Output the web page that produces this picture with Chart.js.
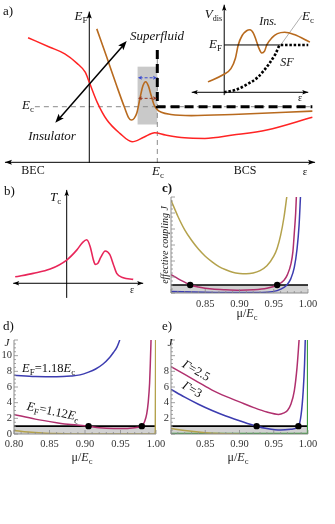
<!DOCTYPE html>
<html><head><meta charset="utf-8">
<script src="https://cdn.jsdelivr.net/npm/chart.js@4.4.1/dist/chart.umd.min.js"></script>
<style>
html,body{margin:0;padding:0;background:#fff;}
body{width:335px;height:524px;position:relative;overflow:hidden;}
canvas{position:absolute;left:0;top:0;}
</style></head>
<body>
<canvas id="ca"></canvas><canvas id="cin"></canvas><canvas id="cb"></canvas>
<canvas id="cc"></canvas><canvas id="cd"></canvas><canvas id="ce"></canvas>
<script>
// ---------- DATA ----------
// Panel a (schematic): x = disorder/coupling epsilon (E_c = 1), y = energy (E_c = 1)
const aRedEps = [-0.90,-0.58,-0.36,-0.18,-0.06,0.0,0.12,0.26,0.45,0.63,0.80,0.96,1.12,1.40,1.70,2.11,2.61,3.28];
const aRedE   = [2.24,2.07,1.95,1.78,1.62,1.44,1.07,0.76,0.52,0.37,0.45,0.53,0.49,0.44,0.43,0.49,0.58,0.81];
const aBrownEps = [0.11,0.26,0.41,0.52,0.58,0.62,0.66,0.70,0.75,0.79,0.83,0.87,0.91,0.95,0.99,1.06,1.20,1.50,2.11,3.28];
const aBrownE   = [2.40,1.88,1.35,0.98,0.80,0.76,0.79,0.89,1.18,1.38,1.45,1.37,1.20,1.04,0.96,0.90,0.86,0.84,0.86,0.92];
// Inset of panel a
const inSfEps = [0,0.2,0.4,0.6,0.8,0.92,1.0,1.5];
const inSfV   = [0,0.05,0.16,0.32,0.60,0.82,1.0,1.0];
const inInsEps = [-0.29,-0.02,0.12,0.20,0.25,0.32,0.40,0.46,0.52,0.57,0.61,0.67,0.72,0.76,0.85,0.95,1.08,1.25,1.53];
const inInsV   = [0.22,0.37,0.50,0.72,1.0,1.20,1.30,1.32,1.25,1.10,0.96,0.83,0.87,1.0,1.15,1.24,1.27,1.22,1.06];
// Panel b
const bEps = [-1.03,-0.67,-0.33,0.0,0.2,0.32,0.40,0.47,0.53,0.57,0.62,0.68,0.77,0.86,0.93,1.0,1.13,1.33];
const bTc  = [0.15,0.23,0.33,0.54,0.77,0.95,1.01,0.85,0.56,0.44,0.46,0.60,0.75,0.67,0.45,0.23,0.13,0.09];
// Panel c
const cOliveMu = [0.80,0.81,0.82,0.83,0.84,0.85,0.86,0.87,0.88,0.89,0.90,0.91,0.92,0.93,0.94,0.95,0.955,0.96,0.965,0.969];
const cOliveJ  = [11.6,9.6,7.9,6.6,5.5,4.6,3.9,3.3,2.9,2.6,2.45,2.4,2.5,2.8,3.4,4.6,5.6,7.2,9.5,12];
const cPinkMu = [0.80,0.81,0.82,0.828,0.84,0.86,0.88,0.90,0.92,0.94,0.955,0.965,0.97,0.975,0.978,0.98,0.982,0.983];
const cPinkJ  = [2.3,1.8,1.35,1.0,0.75,0.5,0.4,0.35,0.4,0.6,1.0,1.6,2.3,3.6,5.2,7.5,10,12];
const cBlueMu = [0.80,0.85,0.90,0.94,0.955,0.965,0.969,0.975,0.98,0.984,0.987,0.989];
const cBlueJ  = [0.2,0.1,0.05,0.1,0.3,0.7,1.0,1.8,3.2,5.5,8.5,12];
const cDotsMu = [0.828,0.955];
// Panel d
const dBlueMu = [0.80,0.83,0.86,0.88,0.893,0.905,0.915,0.925,0.935,0.94,0.945,0.949];
const dBlueJ  = [7.5,7.35,7.3,7.4,7.55,7.9,8.3,8.9,9.8,10.4,11.1,12];
const dPinkMu = [0.80,0.83,0.86,0.88,0.905,0.92,0.94,0.96,0.97,0.98,0.984,0.987,0.989,0.991,0.992,0.993];
const dPinkJ  = [2.5,1.9,1.45,1.2,1.0,0.8,0.7,0.7,0.8,1.0,1.6,2.6,4,6.5,9,12];
const dOliveMu = [0.80,0.82,0.84,0.86,0.88,0.90,0.95,0.998,0.999,0.9995];
const dOliveJ  = [0.45,0.25,0.12,0.05,0.01,0,0,0,0.3,12];
const dDotsMu = [0.905,0.98];
// Panel e
const ePinkMu = [0.80,0.82,0.84,0.86,0.88,0.90,0.92,0.94,0.957,0.965,0.97,0.975,0.98,0.984,0.987];
const ePinkJ  = [8.6,7.6,6.6,5.6,4.8,4.1,3.4,2.8,2.5,2.7,3.0,3.8,5.5,8.5,12];
const eBlueMu = [0.80,0.82,0.84,0.86,0.88,0.90,0.925,0.94,0.96,0.975,0.986,0.99,0.993,0.995,0.996];
const eBlueJ  = [5.7,4.7,3.8,3.0,2.3,1.7,1.0,0.7,0.5,0.6,1.0,2.5,5.5,9,12];
const eOliveMu = [0.80,0.82,0.84,0.86,0.88,0.90];
const eOliveJ  = [0.7,0.45,0.25,0.1,0.02,0];
const eGreenMu = [0.80,0.999,0.9995];
const eGreenJ  = [0.05,0.05,12];
const eDotsMu = [0.925,0.986];
// shared
const muTicks = [0.80,0.85,0.90,0.95,1.00];
const jTicksD = [0,2,4,6,8,10];
const jTicksE = [2,4,6,8];
const jLine = 1;

// ---------- HELPERS ----------
const FONT = '"Liberation Serif","Times New Roman",serif';
const W = 335, H = 524;
const pts = (xs, ys) => xs.map((x, i) => ({x, y: ys[i]}));
const curve = (xs, ys, color, w, extra) => Object.assign({data: pts(xs, ys), borderColor: color, borderWidth: w || 1.5,
  showLine: true, pointRadius: 0, cubicInterpolationMode: 'monotone', fill: false}, extra || {});
const dots = (xs, val) => ({data: xs.map(x => ({x, y: val})), showLine: false, pointRadius: 3.2,
  pointBackgroundColor: '#000', pointBorderColor: '#000', pointBorderWidth: 0});
const band = (val) => ({data: [{x: 0.80, y: val}, {x: 1.00, y: val}], showLine: true, pointRadius: 0,
  borderColor: '#000', borderWidth: 1.6, fill: 'origin', backgroundColor: '#d2d2d2'});

function rich(ctx, x, y, parts, align, rot, color) {
  ctx.save(); ctx.translate(x, y); if (rot) ctx.rotate(rot * Math.PI / 180);
  let w = 0;
  const f = parts.map(p => { const font = (p[1] || '') + ' ' + p[3] + 'px ' + FONT; ctx.font = font;
    const pw = ctx.measureText(p[0]).width; w += pw; return [font, pw]; });
  let cx = align === 'center' ? -w / 2 : align === 'right' ? -w : 0;
  ctx.textBaseline = 'middle'; ctx.textAlign = 'left'; ctx.fillStyle = color || '#111';
  parts.forEach((p, i) => { ctx.font = f[i][0]; ctx.fillText(p[0], cx, p[2]); cx += f[i][1]; });
  ctx.restore();
}
function seg(ctx, x1, y1, x2, y2, color, w, dash) {
  ctx.save(); ctx.strokeStyle = color; ctx.lineWidth = w; ctx.setLineDash(dash || []);
  ctx.beginPath(); ctx.moveTo(x1, y1); ctx.lineTo(x2, y2); ctx.stroke(); ctx.restore();
}
function head(ctx, x1, y1, x2, y2, len, wid, color) {
  const a = Math.atan2(y2 - y1, x2 - x1);
  ctx.save(); ctx.fillStyle = color; ctx.translate(x2, y2); ctx.rotate(a);
  ctx.beginPath(); ctx.moveTo(0, 0); ctx.lineTo(-len, wid / 2); ctx.lineTo(-len * 0.8, 0); ctx.lineTo(-len, -wid / 2);
  ctx.closePath(); ctx.fill(); ctx.restore();
}
function makeChart(id, area, xr, yr, datasets, before, after) {
  const cv = document.getElementById(id); cv.width = W; cv.height = H;
  return new Chart(cv, {
    type: 'scatter', data: {datasets},
    options: {
      responsive: false, animation: false, events: [], devicePixelRatio: 1,
      layout: {padding: {left: area[0], top: area[1], right: W - area[2], bottom: H - area[3]}},
      scales: {x: {type: 'linear', display: false, min: xr[0], max: xr[1]},
               y: {type: 'linear', display: false, min: yr[0], max: yr[1]}},
      plugins: {legend: {display: false}, tooltip: {enabled: false}}
    },
    plugins: [{id: 'deco_' + id,
      beforeDatasetsDraw(c) { if (before) before(c.ctx, v => c.scales.x.getPixelForValue(v), v => c.scales.y.getPixelForValue(v)); },
      afterDatasetsDraw(c) { if (after) after(c.ctx, v => c.scales.x.getPixelForValue(v), v => c.scales.y.getPixelForValue(v)); }}]
  });
}

// ---------- PANEL a ----------
makeChart('ca', [0, 0, 335, 182], [-1.313, 3.613], [-0.354, 2.919], [
  curve(aRedEps, aRedE, '#ff2424', 1.5),
  curve(aBrownEps, aBrownE, '#b86a1e', 1.6)
], (ctx, X, Y) => {
  ctx.fillStyle = '#c9c9c9';
  ctx.fillRect(X(0.71), Y(1.72), X(1.0) - X(0.71), Y(0.68) - Y(1.72));
  seg(ctx, X(-0.80), Y(1), X(3.28), Y(1), '#8a8a8a', 1, [5, 4]);
  seg(ctx, X(1), Y(2.02), X(1), Y(-0.08), '#8a8a8a', 1, [5, 4]);
  // axes
  seg(ctx, X(-1.24), Y(0), X(3.32), Y(0), '#000', 1);
  head(ctx, X(0), Y(0), X(3.32), Y(0), 7, 5, '#000');
  head(ctx, X(0), Y(0), X(-1.24), Y(0), 7, 5, '#000');
  seg(ctx, X(0), Y(-0.01), X(0), Y(2.71), '#000', 1);
  head(ctx, X(0), Y(0), X(0), Y(2.71), 7, 5, '#000');
}, (ctx, X, Y) => {
  ctx.save(); ctx.strokeStyle = '#000'; ctx.lineWidth = 3; ctx.setLineDash([9, 5]);
  ctx.beginPath(); ctx.moveTo(X(1), Y(2.02)); ctx.lineTo(X(1), Y(1)); ctx.lineTo(X(3.28), Y(1)); ctx.stroke(); ctx.restore();
  // small double arrows in grey box
  seg(ctx, X(0.74), Y(1.52), X(0.97), Y(1.52), '#3a4bd0', 1, [3, 2]);
  head(ctx, X(0.8), Y(1.52), X(0.995), Y(1.52), 4, 4, '#3a4bd0');
  head(ctx, X(0.9), Y(1.52), X(0.715), Y(1.52), 4, 4, '#3a4bd0');
  seg(ctx, X(0.74), Y(1.15), X(0.97), Y(1.15), '#9a3a22', 1, [3, 2]);
  head(ctx, X(0.8), Y(1.15), X(0.995), Y(1.15), 4, 4, '#9a3a22');
  head(ctx, X(0.9), Y(1.15), X(0.715), Y(1.15), 4, 4, '#9a3a22');
  // big double arrow
  seg(ctx, X(-0.46), Y(0.76), X(0.51), Y(2.12), '#000', 1.5);
  head(ctx, X(-0.50), Y(0.71), X(0.55), Y(2.18), 9, 7, '#000');
  head(ctx, X(0.55), Y(2.18), X(-0.50), Y(0.71), 9, 7, '#000');
  // text
  rich(ctx, 3, 12, [['a)', '', 0, 13]], 'left');
  rich(ctx, 87.5, 17, [['E', 'italic', 0, 13], ['F', '', 4, 9]], 'right');
  rich(ctx, 157, 37, [['Superfluid', 'italic', 0, 13]], 'center');
  rich(ctx, 52, 137, [['Insulator', 'italic', 0, 13]], 'center');
  rich(ctx, 22, 106, [['E', 'italic', 0, 13], ['c', '', 4, 9]], 'left');
  rich(ctx, 33, 171, [['BEC', '', 0, 12]], 'center');
  rich(ctx, 158, 172, [['E', 'italic', 0, 13], ['c', '', 4, 9]], 'center');
  rich(ctx, 245, 171, [['BCS', '', 0, 12]], 'center');
  rich(ctx, 305, 172, [['ε', '', 0, 11]], 'center');
});

// ---------- INSET ----------
makeChart('cin', [185, 0, 320, 100], [-0.70, 1.71], [-0.163, 1.95], [
  curve(inSfEps, inSfV, '#000', 2.6, {borderDash: [2.5, 1.8], cubicInterpolationMode: 'monotone'}),
  curve([0, 1.0], [1, 1], '#000', 1),
  curve(inInsEps, inInsV, '#b86a1e', 1.6)
], (ctx, X, Y) => {
  seg(ctx, X(-0.58), Y(0), X(1.5), Y(0), '#000', 1);
  head(ctx, X(0), Y(0), X(1.5), Y(0), 6, 4.5, '#000');
  head(ctx, X(0), Y(0), X(-0.58), Y(0), 6, 4.5, '#000');
  seg(ctx, X(0), Y(-0.06), X(0), Y(1.85), '#000', 1);
  head(ctx, X(0), Y(0), X(0), Y(1.85), 6, 4.5, '#000');
  seg(ctx, X(1.0), Y(0.985), X(1.39), Y(1.63), '#9a9a9a', 0.8);
}, (ctx) => {
  rich(ctx, 222, 15, [['V', 'italic', 0, 13], ['dis', '', 4, 8]], 'right');
  rich(ctx, 222, 45, [['E', 'italic', 0, 13], ['F', '', 4, 9]], 'right');
  rich(ctx, 268, 22, [['Ins.', 'italic', 0, 12]], 'center');
  rich(ctx, 302, 17, [['E', 'italic', 0, 13], ['c', '', 4, 9]], 'left');
  rich(ctx, 287, 63, [['SF', 'italic', 0, 12]], 'center');
  rich(ctx, 300, 98, [['ε', '', 0, 10]], 'center');
});

// ---------- PANEL b ----------
makeChart('cb', [0, 180, 160, 305], [-1.334, 1.866], [-0.505, 2.40], [
  curve(bEps, bTc, '#e8265a', 1.6)
], (ctx, X, Y) => {
  seg(ctx, X(-1.07), Y(0), X(1.53), Y(0), '#000', 1);
  head(ctx, X(0), Y(0), X(1.53), Y(0), 6, 4.5, '#000');
  head(ctx, X(0), Y(0), X(-1.07), Y(0), 6, 4.5, '#000');
  seg(ctx, X(0), Y(-0.34), X(0), Y(2.17), '#000', 1);
  head(ctx, X(0), Y(0), X(0), Y(2.17), 6, 4.5, '#000');
}, (ctx) => {
  rich(ctx, 4, 192, [['b)', '', 0, 13]], 'left');
  rich(ctx, 50, 198, [['T', 'italic', 0, 13], ['c', '', 4, 9]], 'left');
  rich(ctx, 132, 290, [['ε', '', 0, 10]], 'center');
});

// ---------- axes helper for c, d, e ----------
function mAxes(ctx, X, Y, o) {
  const axc = '#8c8c8c';
  seg(ctx, X(0.80), Y(0), X(1.00), Y(0), axc, 1);
  seg(ctx, X(0.80), Y(0), X(0.80), Y(12), axc, 1);
  for (let k = 0; k <= 20; k++) { const v = 0.80 + k * 0.01; const big = k % 5 === 0;
    seg(ctx, X(v), Y(0), X(v), Y(0) - (big ? 4 : 2), axc, 0.8); }
  for (let k = 0; k <= 24; k++) { const v = k * 0.5; const big = k % 4 === 0;
    seg(ctx, X(0.80), Y(v), X(0.80) + (big ? 4 : 2), Y(v), axc, 0.8); }
  muTicks.forEach(v => { if (o.skipFirst && v === 0.80) return;
    rich(ctx, X(v), Y(0) + o.xlab, [[v.toFixed(2), '', 0, 10.5]], 'center', 0, '#333'); });
  (o.yticks || []).forEach(v => rich(ctx, X(0.80) - 2, Y(v), [[String(v), '', 0, 10.5]], 'right', 0, '#333'));
  rich(ctx, o.tx, Y(0) + o.title, [['μ/', '', 0, 12], ['E', 'italic', 0, 12], ['c', '', 4, 8.5]], 'center', 0, '#222');
}

// ---------- PANEL c ----------
makeChart('cc', [171, 197, 308, 293], [0.80, 1.00], [0, 12], [
  dots(cDotsMu, jLine),
  curve(cOliveMu, cOliveJ, '#b4a24c'),
  curve(cPinkMu, cPinkJ, '#b0306e'),
  curve(cBlueMu, cBlueJ, '#3c3cb0'),
  band(jLine)
], null, (ctx, X, Y) => {
  mAxes(ctx, X, Y, {skipFirst: true, xlab: 11, title: 21, tx: 247});
  rich(ctx, 162, 189, [['c)', 'bold', 0, 13]], 'left');
  rich(ctx, 165, 245, [['effective coupling ', 'italic', 0, 10], ['J', 'italic', 0, 10]], 'center', -90, '#222');
});

// ---------- PANEL d ----------
makeChart('cd', [14, 340, 156, 434], [0.80, 1.00], [0, 12], [
  dots(dDotsMu, jLine),
  curve(dBlueMu, dBlueJ, '#3c3cb0'),
  curve(dPinkMu, dPinkJ, '#b0306e'),
  curve(dOliveMu, dOliveJ, '#b4a24c'),
  band(jLine)
], null, (ctx, X, Y) => {
  mAxes(ctx, X, Y, {skipFirst: false, yticks: jTicksD, xlab: 10, title: 24, tx: 82});
  rich(ctx, 3, 327, [['d)', '', 0, 13]], 'left');
  rich(ctx, 7, 343, [['J', 'italic', 0, 11]], 'center');
  rich(ctx, 22, 369, [['E', 'italic', 0, 12.5], ['F', '', 4, 9], ['=1.18', '', 0, 12.5], ['E', 'italic', 0, 12.5], ['c', '', 4, 9]], 'left');
  rich(ctx, 53, 412, [['E', 'italic', 0, 12.5], ['F', '', 4, 9], ['=1.12', '', 0, 12.5], ['E', 'italic', 0, 12.5], ['c', '', 4, 9]], 'center', 12);
});

// ---------- PANEL e ----------
makeChart('ce', [171, 340, 308, 434], [0.80, 1.00], [0, 12], [
  dots(eDotsMu, jLine),
  curve(ePinkMu, ePinkJ, '#b0306e'),
  curve(eBlueMu, eBlueJ, '#3c3cb0'),
  curve(eOliveMu, eOliveJ, '#b4a24c'),
  curve(eGreenMu, eGreenJ, '#3fa040', 1.6, {cubicInterpolationMode: 'default', tension: 0}),
  band(jLine)
], null, (ctx, X, Y) => {
  mAxes(ctx, X, Y, {skipFirst: true, yticks: jTicksE, xlab: 10, title: 24, tx: 238});
  rich(ctx, 162, 327, [['e)', '', 0, 13]], 'left');
  rich(ctx, 170, 343, [['J', 'italic', 0, 11]], 'center');
  rich(ctx, 196, 371, [['Γ', 'italic', 0, 12.5], ['=2.5', '', 0, 12.5]], 'center', 30);
  rich(ctx, 192, 390, [['Γ', 'italic', 0, 12.5], ['=3', '', 0, 12.5]], 'center', 30);
});
</script>
</body></html>
